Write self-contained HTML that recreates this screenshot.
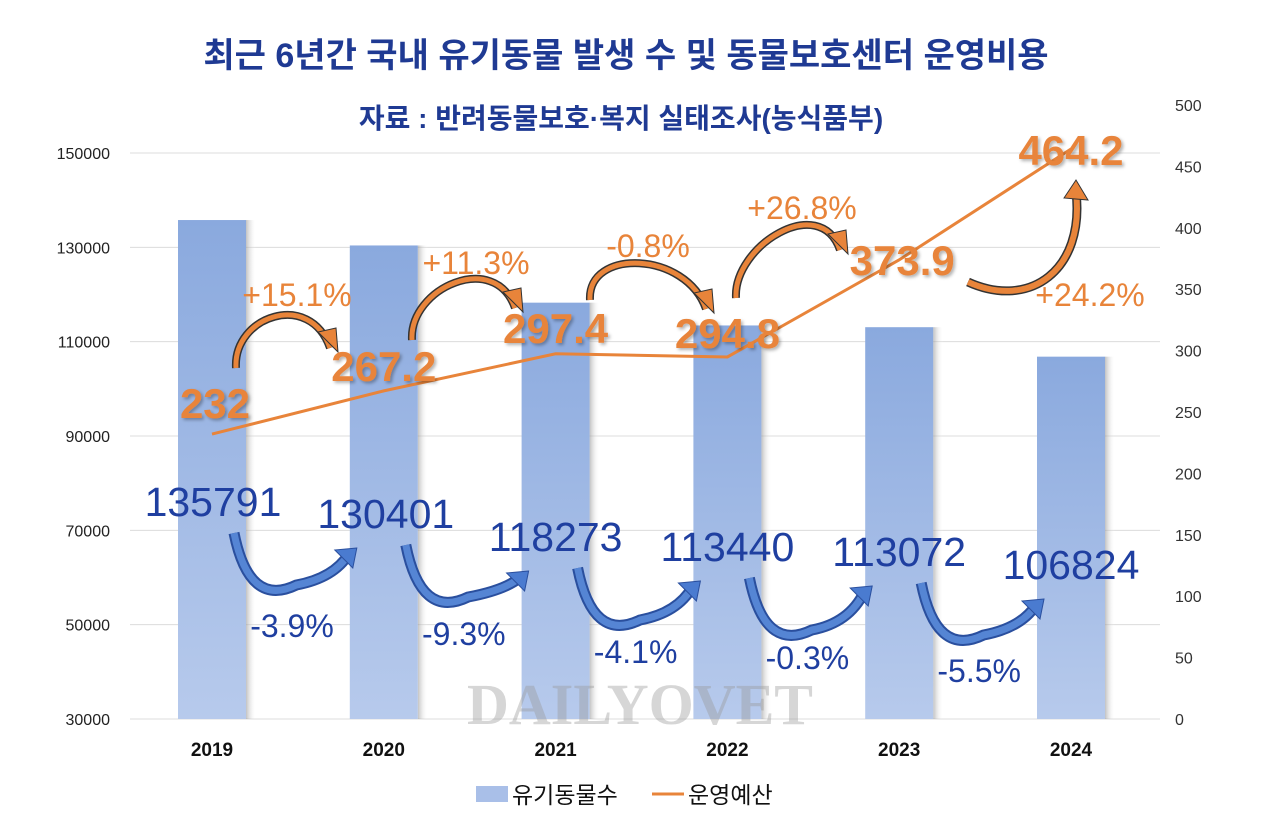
<!DOCTYPE html>
<html><head><meta charset="utf-8"><style>
body{margin:0;background:#fff;width:1283px;height:830px;overflow:hidden;font-family:"Liberation Sans","Noto Sans CJK KR",sans-serif}
svg{position:absolute;left:0;top:0}
</style></head><body>
<svg id="c" width="1283" height="830">
<defs>
<linearGradient id="bg" x1="0" y1="0" x2="0" y2="1"><stop offset="0" stop-color="#8aa9de"/><stop offset="1" stop-color="#b7caec"/></linearGradient>
<linearGradient id="bs" x1="0" y1="0" x2="1" y2="0"><stop offset="0" stop-color="#999" stop-opacity="0.6"/><stop offset="1" stop-color="#fff" stop-opacity="0"/></linearGradient>
<filter id="sh"><feDropShadow dx="2" dy="2" stdDeviation="1.5" flood-color="#000" flood-opacity="0.3"/></filter>
</defs>
<text x="626" y="67" text-anchor="middle" font-size="34" font-weight="bold" fill="#1f3a93">최근 6년간 국내 유기동물 발생 수 및 동물보호센터 운영비용</text>
<text x="621" y="128" text-anchor="middle" font-size="28" font-weight="bold" fill="#1f3a93">자료 : 반려동물보호·복지 실태조사(농식품부)</text>
<g id="grid"></g><g id="bars"></g><g id="line"></g><g id="axes"></g>
<text x="640" y="724" text-anchor="middle" font-family="Liberation Serif,serif" font-weight="bold" font-size="58" fill="#999" fill-opacity="0.4">DAILYOVET</text>
<g id="arrows"></g><g id="labels"></g>
<rect x="476" y="786" width="32" height="16" fill="#a9bfe8"/>
<text x="512" y="803" font-size="23" fill="#111">유기동물수</text>
<line x1="652" y1="794" x2="684" y2="794" stroke="#e8843a" stroke-width="3"/>
<text x="688" y="803" font-size="23" fill="#111">운영예산</text>
</svg>
<script>
const years=["2019","2020","2021","2022","2023","2024"];
const animals=[135791,130401,118273,113440,113072,106824];
const budget=[232,267.2,297.4,294.8,373.9,464.2];
const animalPct=["-3.9%","-9.3%","-4.1%","-0.3%","-5.5%"];
const budgetPct=["+15.1%","+11.3%","-0.8%","+26.8%","+24.2%"];
const leftTicks=[30000,50000,70000,90000,110000,130000,150000];
const rightTicks=[0,50,100,150,200,250,300,350,400,450,500];
const NS="http://www.w3.org/2000/svg";
const x=i=>212+i*171.8;
const yL=v=>719-(v-30000)/20000*94.33;
const yR=v=>719-v*1.228;
function mk(tag,at,par,txt){const e=document.createElementNS(NS,tag);for(const k in at)e.setAttribute(k,at[k]);if(txt!==undefined)e.textContent=txt;document.getElementById(par).appendChild(e);return e;}
leftTicks.forEach(t=>{const g=mk('line',{x1:130,x2:1160,y1:yL(t),y2:yL(t),stroke:'#dcdcdc','stroke-width':1},'grid');


const l=mk('text',{x:110,y:yL(t)+6,'text-anchor':'end','font-size':16,fill:'#222'},'axes',t);

});
rightTicks.forEach(t=>{const l=mk('text',{x:1175,y:yR(t)+6,'font-size':16,fill:'#333'},'axes',t);

});
years.forEach((y,i)=>{const l=mk('text',{x:x(i),y:756,'text-anchor':'middle','font-size':19,'font-weight':'bold',fill:'#111'},'axes',y);

});
animals.forEach((v,i)=>{const s=mk('rect',{x:x(i)+34,y:yL(v),width:10,height:719-yL(v),fill:'url(#bs)'},'bars');


const b=mk('rect',{x:x(i)-34,y:yL(v),width:68,height:719-yL(v),fill:'url(#bg)'},'bars');

});
const pl=mk('polyline',{points:budget.map((v,i)=>x(i)+','+yR(v)).join(' '),fill:'none',stroke:'#e8843a','stroke-width':3},'line');


const aOff=[0,12,35,45,50,63];
animals.forEach((v,i)=>{const t=mk('text',{x:x(i)+(i==0?1:i==1?2:0),y:516+aOff[i],'text-anchor':'middle','font-size':41,fill:'#1f3fa0'},'labels',v);

});
const bOff=[-16,-10,-11,-9,15,16];
budget.forEach((v,i)=>{const t=mk('text',{x:x(i)+(i==0?3:i==4?3:0),y:yR(v)+bOff[i],'text-anchor':'middle','font-size':42,'font-weight':'bold',fill:'#e8843a',filter:'url(#sh)'},'labels',v);

});
animalPct.forEach((p,i)=>{const t=mk('text',{x:x(i)+80,y:637+[0,8,26,32,45][i],'text-anchor':'middle','font-size':32,fill:'#1f3fa0'},'labels',p);

});
const bpx=[297,476,648,802,1090],bpy=[306,274,257,219,306];
budgetPct.forEach((p,i)=>{const t=mk('text',{x:bpx[i],y:bpy[i],'text-anchor':'middle','font-size':32,fill:'#e8843a'},'labels',p);

});
// blue arrows
animals.slice(0,5).forEach((v,i)=>{const x0=x(i)+22,y0=533+aOff[i],x1=x(i+1)-35,y1=542+aOff[i+1];
const d=`M${x0} ${y0} Q${x0+15} ${y0+75} ${(x0+x1)/2+5} ${y0+52} Q${x1-15} ${y0+45} ${x1} ${y1}`;
const a=mk('path',{d:d,fill:'none',stroke:'#2a4f9e','stroke-width':11},'arrows');


mk('path',{d:d,fill:'none',stroke:'#5585d4','stroke-width':7},'arrows');
mk('polygon',{points:`${x1+8},${y1-6} ${x1-14},${y1-4} ${x1+4},${y1+14}`,fill:'#4a7bd0',stroke:'#2a4f9e'},'arrows');});
// orange arrows
const oa=[[236,368,330,348],[412,340,515,308],[590,300,706,309],[736,298,840,250]];
oa.forEach(a=>{const d=`M${a[0]} ${a[1]} C${a[0]-3} ${a[1]-52} ${a[2]-20} ${a[3]-58} ${a[2]} ${a[3]}`;
const p=mk('path',{d:d,fill:'none',stroke:'#333','stroke-width':8},'arrows');


mk('path',{d:d,fill:'none',stroke:'#e8843a','stroke-width':5},'arrows');
mk('polygon',{points:`${a[2]-12},${a[3]-16} ${a[2]+8},${a[3]+4} ${a[2]+6},${a[3]-20}`,fill:'#e8843a',stroke:'#333'},'arrows');});
const d5='M968 282 C1030 310 1085 270 1076 192';
const p5=mk('path',{d:d5,fill:'none',stroke:'#333','stroke-width':9},'arrows');


mk('path',{d:d5,fill:'none',stroke:'#e8843a','stroke-width':6},'arrows');
mk('polygon',{points:'1064,198 1076,180 1088,200',fill:'#e8843a',stroke:'#333'},'arrows');
</script>
</body></html>
